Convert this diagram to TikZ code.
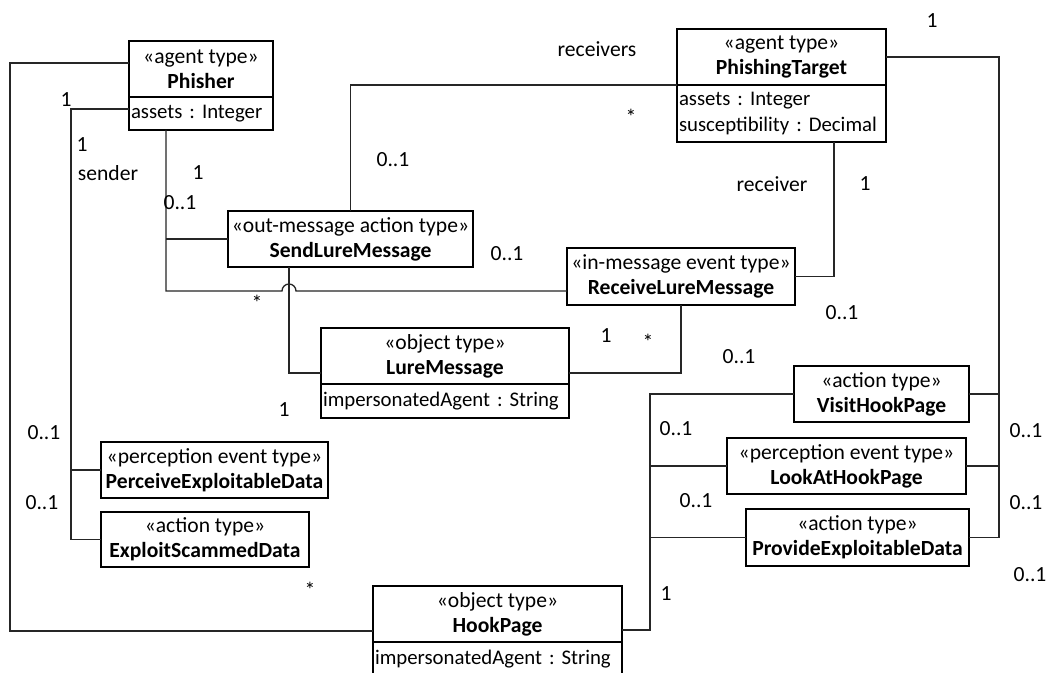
\documentclass[tikz,border=0pt]{standalone}
\usepackage{fontspec}
\setmainfont{Carlito}
\usepackage{tikz}
\frenchspacing

\tikzset{
  cls/.style={draw, line width=1pt, align=center, inner sep=0pt, outer sep=0pt, minimum height=28pt},
  attr/.style={draw, line width=1pt, align=left, inner xsep=1pt, inner ysep=0pt, outer sep=0pt, anchor=north,
    font=\fontsize{10.4}{13}\selectfont},
  assoc/.style={draw=black!85, line width=0.65pt},
  mult/.style={inner sep=0pt}
}

\begin{document}
\begin{tikzpicture}[x=0.5pt, y=-0.5pt, font=\fontsize{10.8}{12.6}\selectfont]

\path[fill=white, use as bounding box] (0,0) rectangle (1050,673);

% classes
\draw (201,69) node[cls, minimum width=72pt] (phisher) {«agent type»\\\textbf{Phisher}};
\draw (phisher.south) node[attr, text width=70pt, minimum height=16.5pt] (phisherattr) {\mbox{assets : Integer}};

\draw (781.5,57) node[cls, minimum width=104.5pt] (target) {«agent type»\\\textbf{PhishingTarget}};
\draw (target.south) node[attr, text width=102.5pt, minimum height=28.5pt] (targetattr) {\mbox{assets : Integer}\\\mbox{susceptibility : Decimal}};

\draw (350.5,239) node[cls, minimum width=122.5pt] (sendlure) {«out-message action type»\\\textbf{SendLureMessage}};
\draw (681,276.5) node[cls, minimum width=114pt, minimum height=28.5pt] (receivelure) {«in-message event type»\\\textbf{ReceiveLureMessage}};

\draw (445,356) node[cls, minimum width=124pt] (luremsg) {«object type»\\\textbf{LureMessage}};
\draw (luremsg.south) node[attr, text width=122pt, minimum height=17pt] (luremsgattr) {\mbox{impersonatedAgent : String}};

\draw (214.5,470) node[cls, minimum width=113.5pt] (perceive) {«perception event type»\\\textbf{PerceiveExploitableData}};
\draw (205,539.5) node[cls, minimum width=104pt, minimum height=27.5pt] (exploit) {«action type»\\\textbf{ExploitScammedData}};

\draw (497.5,614) node[cls, minimum width=124.5pt] (hookpage) {«object type»\\\textbf{HookPage}};
\draw (hookpage.south) node[attr, text width=122.5pt, minimum height=17pt] (hookpageattr) {\mbox{impersonatedAgent : String}};

\draw (881.5,394) node[cls, minimum width=87.5pt] (visit) {«action type»\\\textbf{VisitHookPage}};
\draw (846.5,466) node[cls, minimum width=119.5pt] (lookat) {«perception event type»\\\textbf{LookAtHookPage}};
\draw (857.5,537.5) node[cls, minimum width=111.5pt, minimum height=28.5pt] (provide) {«action type»\\\textbf{ProvideExploitableData}};

% associations
\draw[assoc] (phisher.west |- 0,63) -- (10,63) |- (hookpage.west |- 0,631);
\draw[assoc] (phisherattr.west |- 0,109) -- (71,109) |- (exploit.west);
\draw[assoc] (71,470) -- (perceive.west);
\draw[assoc] (phisherattr.south -| 166,0) -- (166,291) -- (282,291)
  arc[start angle=180, end angle=0, radius=3.5pt] -- (receivelure.west |- 0,291);
\draw[assoc] (166,239) -- (sendlure.west);
\draw[assoc] (sendlure.north) |- (target.south west);
\draw[assoc] (sendlure.south -| 289,0) |- (luremsg.west |- 0,373);
\draw[assoc] (targetattr.south -| 834,0) |- (receivelure.east);
\draw[assoc] (receivelure.south) |- (luremsg.east |- 0,373);
\draw[assoc] (target.east) -- (999,57) |- (provide.east);
\draw[assoc] (999,394) -- (visit.east);
\draw[assoc] (999,466) -- (lookat.east);
\draw[assoc] (hookpage.east |- 0,630) -- (650,630) |- (visit.west);
\draw[assoc] (650,466) -- (lookat.west);
\draw[assoc] (650,537.5) -- (provide.west);

% multiplicities and roles
\draw (66,100) node[mult] (m1) {1};
\draw (82,145) node[mult] (m2) {1};
\draw (108,173) node[mult] (sender) {sender};
\draw (44,433) node[mult] (m3) {0..1};
\draw (42,503) node[mult] (m4) {0..1};
\draw (310,590) node[mult] (m5) {*};
\draw (198,173) node[mult] (m6) {1};
\draw (180,203) node[mult] (m7) {0..1};
\draw (507,254) node[mult] (m8) {0..1};
\draw (597,49) node[mult] (receivers) {receivers};
\draw (631,117) node[mult] (m9) {*};
\draw (393,160) node[mult] (m10) {0..1};
\draw (257,303) node[mult] (m11) {*};
\draw (284,410) node[mult] (m12) {1};
\draw (772,184) node[mult] (receiver) {receiver};
\draw (865,184) node[mult] (m13) {1};
\draw (606,336) node[mult] (m14) {1};
\draw (648,342) node[mult] (m15) {*};
\draw (932,21) node[mult] (m16) {1};
\draw (842,313) node[mult] (m17) {0..1};
\draw (739,357) node[mult] (m18) {0..1};
\draw (1026,431) node[mult] (m19) {0..1};
\draw (1026,503) node[mult] (m20) {0..1};
\draw (1030,575) node[mult] (m21) {0..1};
\draw (666,594) node[mult] (m22) {1};
\draw (676,429) node[mult] (m23) {0..1};
\draw (696,501) node[mult] (m24) {0..1};
\end{tikzpicture}
\end{document}
